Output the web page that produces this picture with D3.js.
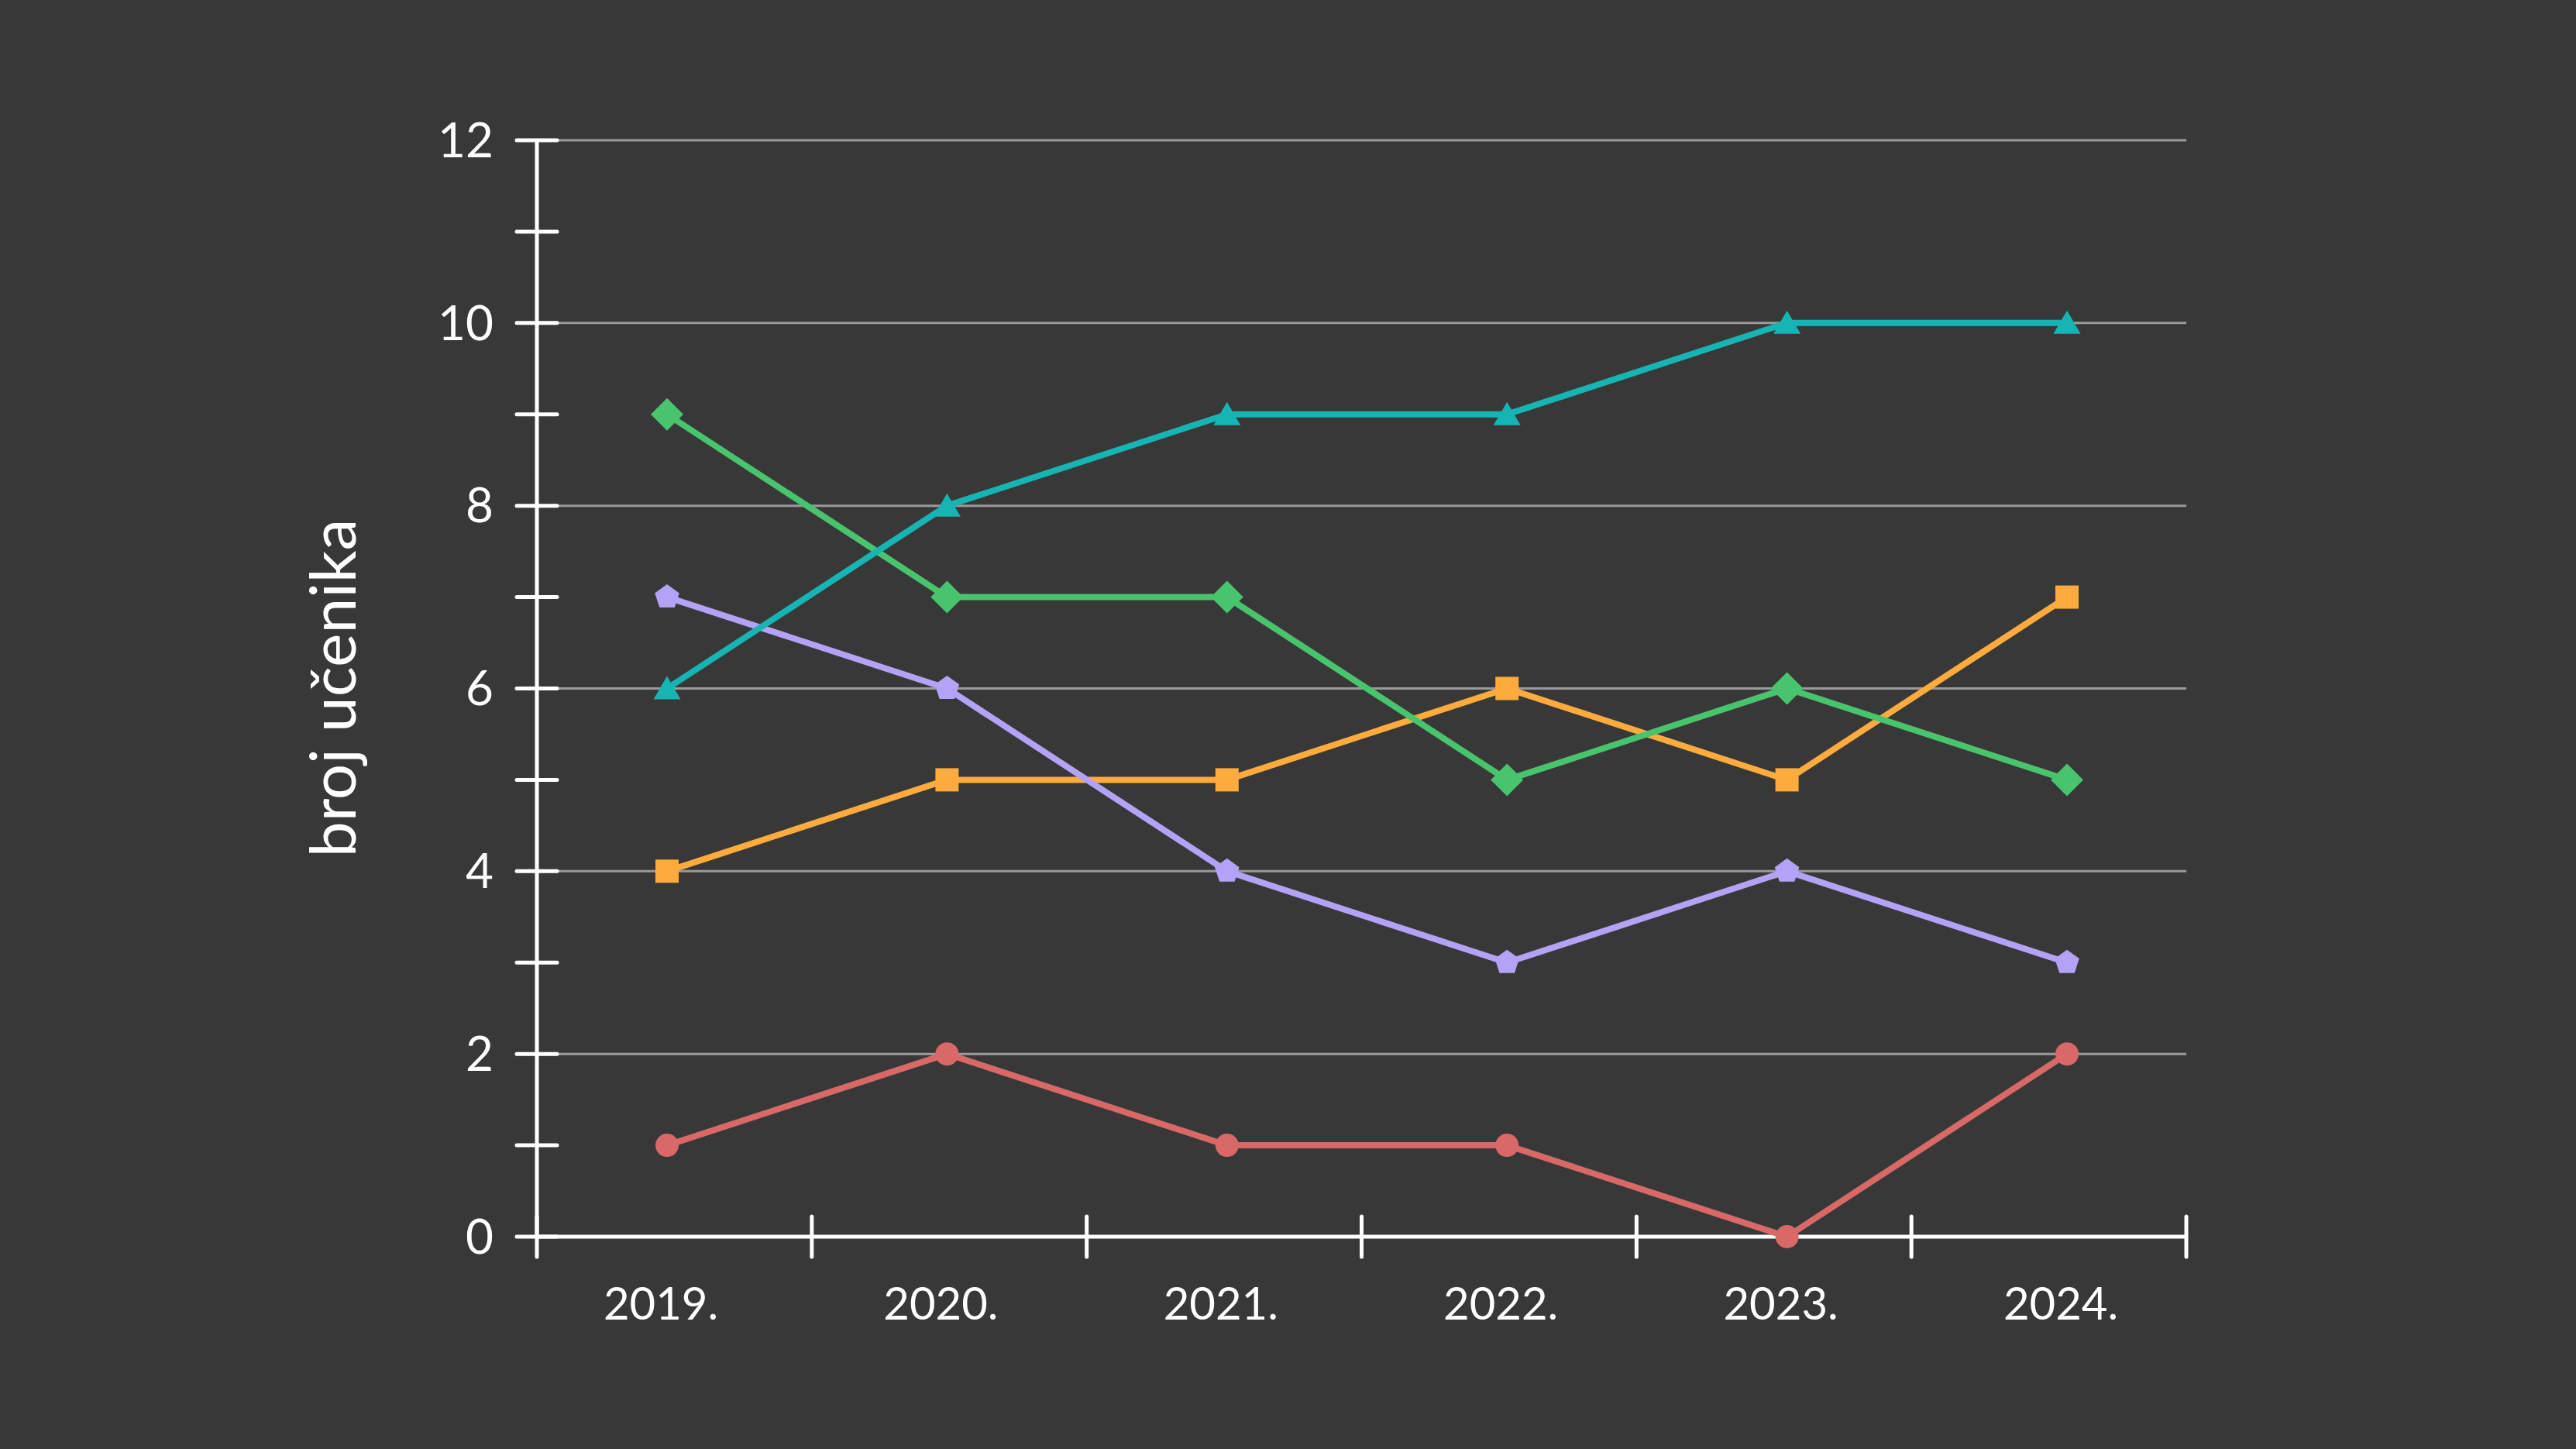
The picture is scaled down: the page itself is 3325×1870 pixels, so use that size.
<!DOCTYPE html>
<html>
<head>
<meta charset="utf-8">
<script src="https://cdn.jsdelivr.net/npm/d3@7"></script>
<style>
    html, body { margin: 0; padding: 0; background: #383838; }
    svg { display: block; }
</style>
</head>
<body>
<div id="container"><svg></svg></div>
<script>
let _width = 3325;
let _height = 1870;

// 数据
let years = ['2019.', '2020.', '2021.', '2022.', '2023.', '2024.'];
let yTicks = [0, 2, 4, 6, 8, 10, 12];
let yTitle = 'broj učenika';

let redValues = [1, 2, 1, 1, 0, 2];
let orangeValues = [4, 5, 5, 6, 5, 7];
let purpleValues = [7, 6, 4, 3, 4, 3];
let greenValues = [9, 7, 7, 5, 6, 5];
let tealValues = [6, 8, 9, 9, 10, 10];

let series = [
    { name: 'red', values: redValues, color: '#d96868', shape: 'circle' },
    { name: 'orange', values: orangeValues, color: '#fdab3d', shape: 'square' },
    { name: 'purple', values: purpleValues, color: '#b3a2f6', shape: 'pentagon' },
    { name: 'green', values: greenValues, color: '#49c46e', shape: 'diamond' },
    { name: 'teal', values: tealValues, color: '#16b5b4', shape: 'triangle' }
];

let margin = { top: 181, right: 503, bottom: 274, left: 693 };
let width = _width - margin.left - margin.right;
let height = _height - margin.top - margin.bottom;
let font = 'Lato, "Open Sans", sans-serif';

// 标记形状
function shapePath(shape) {
    let p = d3.path();
    if (shape == 'circle') {
        p.arc(0, 0, 15, 0, 2 * Math.PI);
    } else if (shape == 'square') {
        p.rect(-15, -15, 30, 30);
    } else if (shape == 'diamond') {
        p.moveTo(0, -21); p.lineTo(21, 0); p.lineTo(0, 21); p.lineTo(-21, 0); p.closePath();
    } else if (shape == 'triangle') {
        p.moveTo(0, -16); p.lineTo(17.5, 14); p.lineTo(-17.5, 14); p.closePath();
    } else if (shape == 'pentagon') {
        let r = 16.6;
        for (let i = 0; i < 5; i++) {
            let a = -Math.PI / 2 + i * 2 * Math.PI / 5;
            if (i == 0) p.moveTo(r * Math.cos(a), r * Math.sin(a));
            else p.lineTo(r * Math.cos(a), r * Math.sin(a));
        }
        p.closePath();
    }
    return p.toString();
}

function draw_chart() {
    let svg = d3.select('#container')
        .select('svg')
        .attr('width', _width)
        .attr('height', _height)
        .style('background', '#383838');

    let g = svg.append('g')
        .attr('transform', `translate(${margin.left},${margin.top})`);

    // 比例尺
    let y = d3.scaleLinear().domain([0, 12]).range([height, 0]);
    let xBand = d3.scaleBand().domain(years).range([0, width]);
    let x = d3.scalePoint().domain(years).range([168, 1975]);

    // 网格线
    g.append('g')
        .selectAll('line')
        .data(yTicks.filter(d => d > 0))
        .join('line')
        .attr('x1', 0)
        .attr('x2', width)
        .attr('y1', d => y(d))
        .attr('y2', d => y(d))
        .attr('stroke', '#9a9a9a')
        .attr('stroke-width', 3);

    // y轴
    let yAxis = g.append('g');
    yAxis.append('line')
        .attr('x1', 0).attr('x2', 0)
        .attr('y1', y(12)).attr('y2', y(0))
        .attr('stroke', '#fff')
        .attr('stroke-width', 5);
    yAxis.selectAll('line.tick')
        .data(d3.range(0, 13))
        .join('line')
        .attr('class', 'tick')
        .attr('x1', -26).attr('x2', 26)
        .attr('y1', d => y(d)).attr('y2', d => y(d))
        .attr('stroke', '#fff')
        .attr('stroke-width', 5)
        .attr('stroke-linecap', 'round');
    yAxis.selectAll('text')
        .data(yTicks)
        .join('text')
        .attr('x', -56)
        .attr('y', d => y(d))
        .attr('dy', '0.35em')
        .attr('text-anchor', 'end')
        .attr('font-family', font)
        .attr('font-size', 62)
        .attr('fill', '#fff')
        .text(d => d);

    // x轴
    let xAxis = g.append('g').attr('transform', `translate(0,${height})`);
    xAxis.append('line')
        .attr('x1', 0).attr('x2', width)
        .attr('stroke', '#fff')
        .attr('stroke-width', 5);
    xAxis.selectAll('line.tick')
        .data(years.map(d => xBand(d)).concat([width]))
        .join('line')
        .attr('class', 'tick')
        .attr('x1', d => d).attr('x2', d => d)
        .attr('y1', -26).attr('y2', 26)
        .attr('stroke', '#fff')
        .attr('stroke-width', 5)
        .attr('stroke-linecap', 'round');
    xAxis.selectAll('text')
        .data(years)
        .join('text')
        .attr('x', d => x(d) - 8)
        .attr('y', 87)
        .attr('dy', '0.35em')
        .attr('text-anchor', 'middle')
        .attr('font-family', font)
        .attr('font-size', 58)
        .attr('fill', '#fff')
        .text(d => d);

    // y轴标题
    svg.append('text')
        .attr('transform', `translate(430,888) rotate(-90)`)
        .attr('dy', '0.35em')
        .attr('text-anchor', 'middle')
        .attr('font-family', font)
        .attr('font-size', 82)
        .attr('fill', '#fff')
        .text(yTitle);

    // 折线
    let line = d3.line()
        .x((d, i) => x(years[i]))
        .y(d => y(d));

    let lines = g.append('g');
    series.forEach(s => {
        lines.append('path')
            .datum(s.values)
            .attr('fill', 'none')
            .attr('stroke', s.color)
            .attr('stroke-width', 8)
            .attr('stroke-linejoin', 'round')
            .attr('d', line);
    });

    // 标记点
    series.forEach(s => {
        g.append('g')
            .selectAll('path')
            .data(s.values)
            .join('path')
            .attr('transform', (d, i) => `translate(${x(years[i])},${y(d)})`)
            .attr('d', shapePath(s.shape))
            .attr('fill', s.color);
    });
}

draw_chart();
</script>
</body>
</html>
